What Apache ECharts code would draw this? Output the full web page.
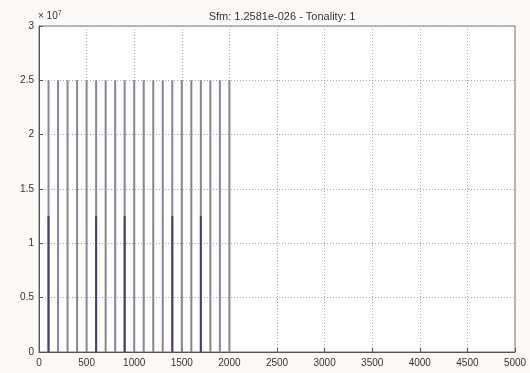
<!DOCTYPE html>
<html>
<head>
<meta charset="utf-8">
<script src="https://cdn.jsdelivr.net/npm/echarts@6/dist/echarts.min.js"></script>
<style>
  html, body { margin: 0; padding: 0; background: #fbfaf8; }
  #main { width: 530px; height: 373px; }
</style>
</head>
<body>
<div id="main"></div>
<script>
// spectrum peaks (frequency, magnitude)
var peakFreq = [100, 200, 300, 400, 500, 600, 700, 800, 900, 1000,
                1100, 1200, 1300, 1400, 1500, 1600, 1700, 1800, 1900, 2000];
var peakMag = [2.5e7, 2.5e7, 2.5e7, 2.5e7, 2.5e7, 2.5e7, 2.5e7, 2.5e7, 2.5e7, 2.5e7,
               2.5e7, 2.5e7, 2.5e7, 2.5e7, 2.5e7, 2.5e7, 2.5e7, 2.5e7, 2.5e7, 2.5e7];
// second, darker trace
var lowFreq = [100, 600, 900, 1400, 1700];
var lowMag = [1.25e7, 1.25e7, 1.25e7, 1.25e7, 1.25e7];

var titleText = 'Sfm: 1.2581e-026 - Tonality: 1';
var xTicks = [0, 500, 1000, 1500, 2000, 2500, 3000, 3500, 4000, 4500, 5000];
var yTicks = [0, 0.5e7, 1e7, 1.5e7, 2e7, 2.5e7, 3e7];

function pairs(xs, ys) {
  return xs.map(function (x, i) { return [x, ys[i]]; });
}

// vertical stem from 0 to value
function stem(color) {
  return function (params, api) {
    var top = api.coord([api.value(0), api.value(1)]);
    var base = api.coord([api.value(0), 0]);
    return {
      type: 'line',
      shape: { x1: top[0], y1: top[1], x2: base[0], y2: base[1] },
      style: { stroke: color, lineWidth: 2 }
    };
  };
}

var chart = echarts.init(document.getElementById('main'));

var gridLine = { show: true, lineStyle: { color: '#a8a8a8', type: [1, 2], width: 1 } };
var labelStyle = { color: '#333', fontSize: 10, fontFamily: 'Liberation Sans, sans-serif' };

var option = {
  backgroundColor: '#fbfaf8',
  animation: false,
  title: {
    text: titleText,
    left: 277,
    textAlign: 'center',
    top: 6,
    textStyle: { color: '#333', fontSize: 11, fontWeight: 'normal', fontFamily: 'Liberation Sans, sans-serif' }
  },
  grid: { left: 39, right: 15, top: 26, bottom: 21, show: true, backgroundColor: '#fefefe', borderColor: '#777', borderWidth: 1 },
  xAxis: {
    type: 'value',
    min: 0, max: 5000, interval: 500,
    axisLine: { show: true, lineStyle: { color: '#555' } },
    axisTick: { show: true, inside: true, length: 4, lineStyle: { color: '#555' } },
    axisLabel: Object.assign({ margin: 6, formatter: function (v) { return xTicks.indexOf(v) >= 0 ? String(v) : ''; } }, labelStyle),
    splitLine: gridLine
  },
  yAxis: {
    type: 'value',
    min: 0, max: 3e7, interval: 0.5e7,
    axisLine: { show: true, lineStyle: { color: '#555' } },
    axisTick: { show: true, inside: true, length: 4, lineStyle: { color: '#555' } },
    axisLabel: Object.assign({ margin: 5, formatter: function (v) { return yTicks.indexOf(v) >= 0 ? String(v / 1e7) : ''; } }, labelStyle),
    splitLine: gridLine
  },
  graphic: [{
    type: 'text',
    left: 38, top: 10,
    style: {
      text: '× 10{s|7}',
      rich: { s: { fontSize: 7, verticalAlign: 'top', padding: [0, 0, 6, 0] } },
      fill: '#333', fontSize: 10, fontFamily: 'Liberation Sans, sans-serif'
    }
  }],
  series: [
    { type: 'custom', renderItem: stem('#878694'), data: pairs(peakFreq, peakMag), clip: true },
    { type: 'custom', renderItem: stem('#4a3d72'), data: pairs(lowFreq, lowMag), clip: true }
  ]
};

chart.setOption(option);
</script>
</body>
</html>
